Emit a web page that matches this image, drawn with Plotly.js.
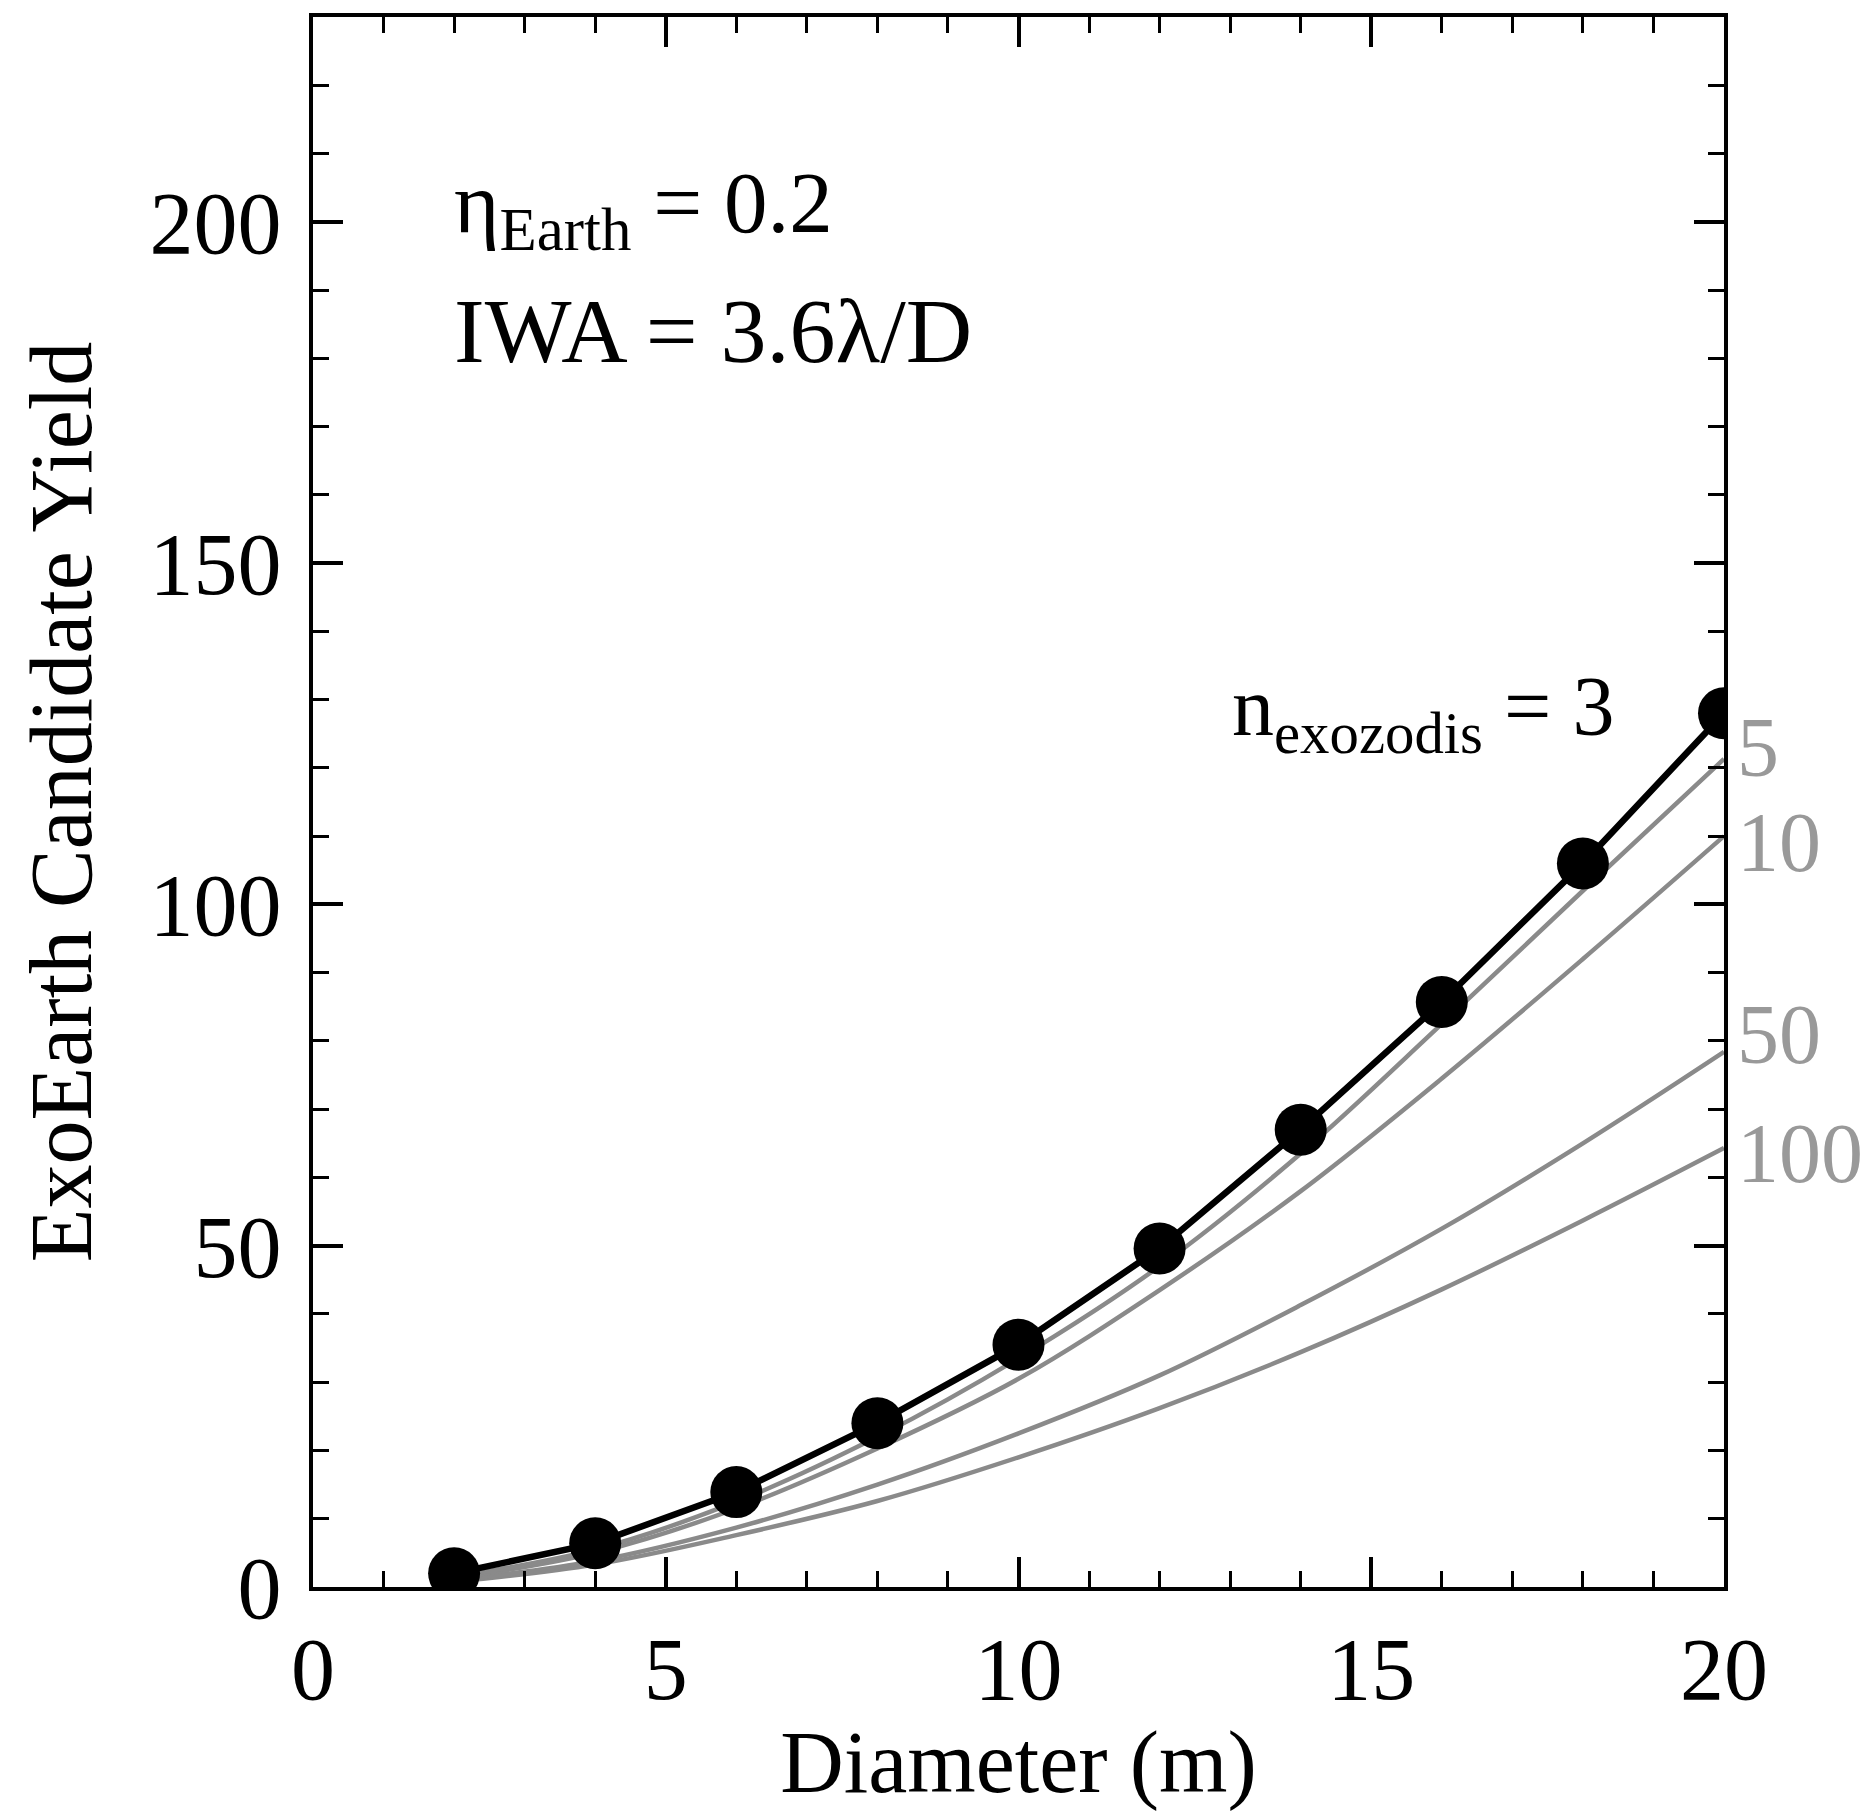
<!DOCTYPE html>
<html>
<head>
<meta charset="utf-8">
<script src="https://cdn.plot.ly/plotly-3.0.1.min.js"></script>
<style>html,body{margin:0;padding:0;background:#fff;}#chart{width:1875px;height:1811px;}</style>
</head>
<body>
<div id="chart"></div>
<script>
// Telescope diameter (m)
const diameter = [2, 4, 6, 8, 10, 12, 14, 16, 18, 20];
// ExoEarth candidate yield for different exozodi levels
const yield3   = [2.0, 6.4, 13.9, 24.0, 35.5, 49.6, 67.0, 85.7, 106.0, 128.0];
const yield5   = [1.5, 5.5, 12.5, 22.0, 33.5, 47.0, 63.5, 82.5, 102.0, 121.3];
const yield10  = [1.3, 5.0, 11.5, 20.3, 30.5, 43.5, 58.0, 74.5, 92.0, 110.0];
const yield50  = [1.0, 3.8, 8.7, 15.0, 22.5, 31.0, 41.3, 52.5, 65.0, 78.4];
const yield100 = [0.8, 3.3, 7.6, 12.6, 19.0, 26.2, 34.4, 43.6, 53.7, 64.3];

const grayLabels = ["5", "10", "50", "100"];
const grayLabelY = [123, 109, 81, 63.5];

const xTicks = [0, 5, 10, 15, 20];
const yTicks = [0, 50, 100, 150, 200];

const FONT = "Liberation Serif, Times New Roman, serif";
const GRAY = "#8a8a8a";

const traces = [];
[yield100, yield50, yield10, yield5].forEach(function (ys) {
  traces.push({
    x: diameter, y: ys, type: "scatter", mode: "lines",
    line: {color: GRAY, width: 4.5, shape: "spline", smoothing: 1},
    hoverinfo: "skip", showlegend: false
  });
});
traces.push({
  x: diameter, y: yield3, type: "scatter", mode: "lines+markers",
  line: {color: "#000", width: 6.5},
  marker: {color: "#000", size: 52},
  showlegend: false
});

const annotations = [
  {text: "η<sub>Earth</sub> = 0.2", x: 1.97, y: 202, xref: "x", yref: "y",
   xanchor: "left", yanchor: "middle", showarrow: false,
   font: {family: FONT, size: 87, color: "#000"}},
  {text: "IWA = 3.6λ/D", x: 1.97, y: 184, xref: "x", yref: "y",
   xanchor: "left", yanchor: "middle", showarrow: false,
   font: {family: FONT, size: 92, color: "#000"}},
  {text: "n<sub>exozodis</sub> = 3", x: 13.0, y: 128, xref: "x", yref: "y",
   xanchor: "left", yanchor: "middle", showarrow: false,
   font: {family: FONT, size: 84, color: "#000"}}
];
grayLabels.forEach(function (t, i) {
  annotations.push({text: t, x: 1.008, y: grayLabelY[i], xref: "paper", yref: "y",
    xanchor: "left", yanchor: "middle", showarrow: false,
    font: {family: FONT, size: 84, color: "#999"}});
});

const axisCommon = {
  showgrid: false, zeroline: false, showline: true, linecolor: "#000", linewidth: 4,
  mirror: "allticks", ticks: "inside", ticklen: 30, tickwidth: 4, tickcolor: "#000",
  tickfont: {family: FONT, size: 88, color: "#000"}
};

const layout = {
  width: 1875, height: 1811,
  margin: {l: 313, r: 151, t: 17, b: 224},
  paper_bgcolor: "#fff", plot_bgcolor: "#fff",
  font: {family: FONT, color: "#000"},
  xaxis: Object.assign({}, axisCommon, {
    range: [0, 20], tickvals: xTicks, ticktext: xTicks.map(String),
    minor: {dtick: 1, ticks: "inside", ticklen: 16, tickwidth: 3, tickcolor: "#000"},
    ticklabelstandoff: 2,
    title: {text: "Diameter (m)", font: {family: FONT, size: 88, color: "#000"}, standoff: 55}
  }),
  yaxis: Object.assign({}, axisCommon, {
    range: [0, 230], tickvals: yTicks, ticktext: yTicks.map(String),
    minor: {dtick: 10, ticks: "inside", ticklen: 16, tickwidth: 3, tickcolor: "#000"},
    ticklabelstandoff: 10,
    title: {text: "ExoEarth Candidate Yield", font: {family: FONT, size: 88, color: "#000"}, standoff: 30}
  }),
  annotations: annotations
};

Plotly.newPlot("chart", traces, layout, {displayModeBar: false, staticPlot: true});
</script>
</body>
</html>
